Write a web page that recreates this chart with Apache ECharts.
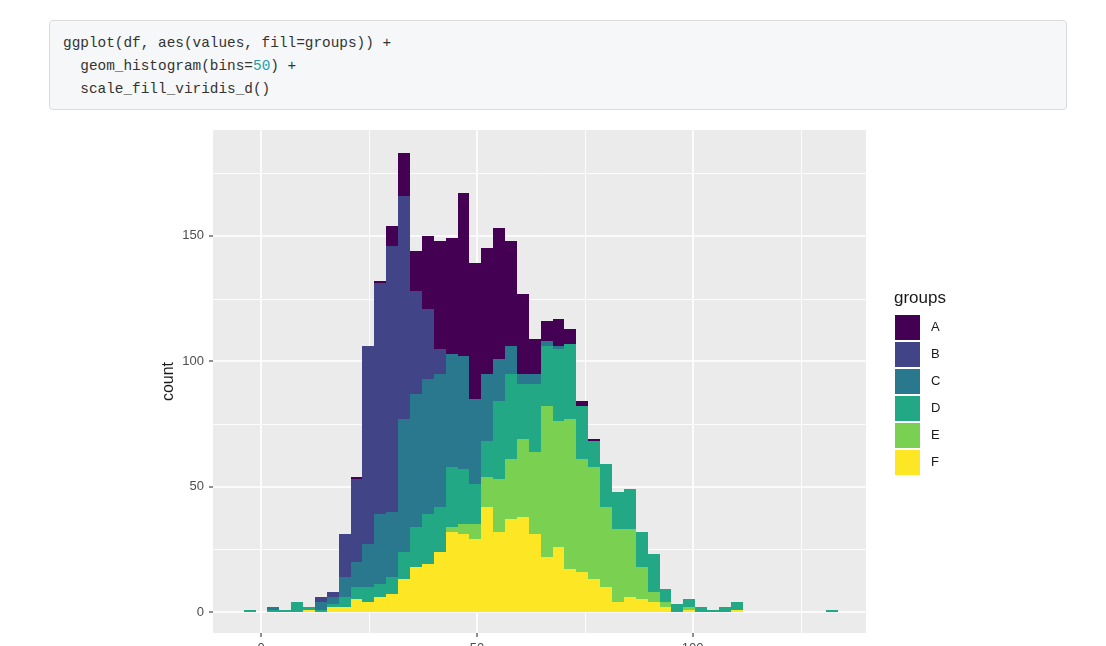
<!DOCTYPE html>
<html>
<head>
<meta charset="utf-8">
<script src="https://cdn.jsdelivr.net/npm/echarts@6/dist/echarts.min.js"></script>
<style>
  html, body { margin:0; padding:0; background:#ffffff; overflow:hidden; width:1106px; height:646px; }
  #chart { position:absolute; left:0; top:0; width:1106px; height:690px; }
  #code { position:absolute; left:49px; top:20px; width:1018px; height:90px; box-sizing:border-box;
          background:#f6f7f8; border:1px solid #dadbdc; border-radius:4px;
          font-family:'Liberation Mono','DejaVu Sans Mono',monospace; font-size:14.4px; line-height:23px;
          padding:11px 0 0 13px; color:#333333; white-space:pre; z-index:2; }
  #code .num { color:#1f9fa8; }
</style>
</head>
<body>
<div id="chart"></div>
<div id="code">ggplot(df, aes(values, fill=groups)) +
  geom_histogram(bins=<span class="num">50</span>) +
  scale_fill_viridis_d()</div>
<script>
// ---- data (counts per histogram bin, 50 bins) ----
const groups = ['A', 'B', 'C', 'D', 'E', 'F'];
const groupColors = ['#440154', '#414487', '#2A788E', '#22A884', '#7AD151', '#FDE725'];
const binStart = -4.05;   // left edge of first bin (value units)
const binWidth = 2.753;   // bin width (value units)

const countsA = [0,0,0,0,0,0,0,0,0,1, 0,1,8,17,16,29,43,46,65,54, 50,52,42,32,14,8,11,6,2,1, 0,0,0,0,0,0,0,0,0,0, 0,0,0,0,0,0,0,0,0,0];
const countsB = [0,0,0,0,0,0,2,2,17,33, 79,92,106,89,41,28,10,0,0,0, 0,0,0,0,0,0,0,0,0,0, 0,0,0,0,0,0,0,0,0,0, 0,0,0,0,0,0,0,0,0,0];
const countsC = [0,0,1,0,0,0,3,3,8,10, 17,28,26,53,53,54,53,45,45,34, 27,17,11,4,4,2,1,0,0,0, 0,0,0,0,0,0,0,0,0,0, 0,0,0,0,0,0,0,0,0,0];
const countsD = [1,0,1,1,4,1,1,1,4,5, 6,5,7,11,16,20,18,24,22,16, 14,31,34,22,27,24,29,30,21,10, 17,15,16,14,15,5,3,3,2,1, 2,3,0,0,0,0,0,0,0,1];
const countsE = [0,0,0,0,0,0,0,0,0,0, 0,0,0,0,0,0,0,2,4,6, 12,21,24,31,33,60,50,60,45,45, 32,29,27,13,4,2,0,1,0,0, 0,0,0,0,0,0,0,0,0,0];
const countsF = [0,0,0,0,0,1,0,2,2,5, 4,6,7,13,18,19,24,32,31,29, 42,32,37,38,31,22,26,17,16,13, 10,4,6,5,4,2,0,1,0,0, 0,1,0,0,0,0,0,0,0,0];

const yTicks = [0, 50, 100, 150];
const yMinorGrid = [25, 75, 125, 175];
const xTicks = [0, 50, 100];
const xMinorGrid = [25, 75, 125];

// ---- build stacked rectangles (ggplot stacks F at bottom, A on top) ----
const countsByGroup = [countsA, countsB, countsC, countsD, countsE, countsF];
const stackOrder = [5, 4, 3, 2, 1, 0];
const nBins = countsA.length;
const cum = new Array(nBins).fill(0);
const rectData = {};
stackOrder.forEach(g => {
  const arr = [];
  for (let i = 0; i < nBins; i++) {
    const v = countsByGroup[g][i];
    const lo = cum[i], hi = cum[i] + v;
    cum[i] = hi;
    if (v > 0) arr.push([binStart + i * binWidth, binStart + (i + 1) * binWidth, lo, hi]);
  }
  rectData[g] = arr;
});

const chart = echarts.init(document.getElementById('chart'), null, { renderer: 'canvas' });
const FONT = "'Liberation Sans', Arial, sans-serif";

const gridSeries = {
  type: 'custom', silent: true, z: 1, clip: false,
  data: [].concat(
    yTicks.map(v => ['h', v, 1]), yMinorGrid.map(v => ['h', v, 0]),
    xTicks.map(v => ['v', v, 1]), xMinorGrid.map(v => ['v', v, 0])
  ),
  dimensions: ['dir', 'val', 'major'],
  encode: { x: -1, y: -1 },
  renderItem: function (params, api) {
    const cs = params.coordSys;
    const dir = api.value(0), v = api.value(1), major = api.value(2);
    const w = major ? 1.7 : 0.85;
    const children = [];
    if (dir === 'h') {
      const y = Math.round(api.coord([0, v])[1]) + (major ? 0 : 0.5);
      children.push({ type: 'line', shape: { x1: cs.x, y1: y, x2: cs.x + cs.width, y2: y },
                      style: { stroke: '#ffffff', lineWidth: w } });
      if (major) children.push({ type: 'line', shape: { x1: cs.x - 4, y1: y, x2: cs.x, y2: y },
                                 style: { stroke: '#333333', lineWidth: 1.1 } });
    } else {
      const x = Math.round(api.coord([v, 0])[0]) + (major ? 0 : 0.5);
      children.push({ type: 'line', shape: { x1: x, y1: cs.y, x2: x, y2: cs.y + cs.height },
                      style: { stroke: '#ffffff', lineWidth: w } });
      if (major) children.push({ type: 'line', shape: { x1: x, y1: cs.y + cs.height, x2: x, y2: cs.y + cs.height + 4 },
                                 style: { stroke: '#333333', lineWidth: 1.1 } });
    }
    return { type: 'group', children: children };
  }
};

const barSeries = groups.map((name, g) => ({
  name: name,
  type: 'custom',
  z: 2,
  itemStyle: { color: groupColors[g] },
  data: rectData[g],
  encode: { x: [0, 1], y: [2, 3] },
  renderItem: function (params, api) {
    const a = api.coord([api.value(0), api.value(2)]);
    const b = api.coord([api.value(1), api.value(3)]);
    const x0 = Math.round(a[0]), x1 = Math.round(b[0]);
    const y0 = Math.round(a[1]), y1 = Math.round(b[1]);
    return { type: 'rect',
             shape: { x: x0, y: y1, width: x1 - x0, height: y0 - y1 },
             style: { fill: groupColors[g] } };
  }
}));

chart.setOption({
  animation: false,
  textStyle: { fontFamily: FONT },
  title: { text: 'groups', left: 894, top: 290, padding: 0,
           textStyle: { fontFamily: FONT, fontSize: 17, fontWeight: 'normal', color: '#1a1a1a' } },
  legend: {
    data: groups, orient: 'vertical', left: 895, top: 315, padding: 0,
    itemWidth: 25, itemHeight: 25, itemGap: 2, icon: 'rect', selectedMode: false,
    textStyle: { fontFamily: FONT, fontSize: 13, color: '#1a1a1a', padding: [0, 0, 0, 6] }
  },
  grid: { left: 213, top: 130, width: 653, height: 503, show: true,
          backgroundColor: '#ebebeb', borderWidth: 0, containLabel: false },
  xAxis: {
    type: 'value', min: -11.15, max: 140.15,
    axisLine: { show: false },
    axisTick: { show: false },
    axisLabel: { customValues: xTicks, color: '#4d4d4d', fontSize: 13, margin: 9, fontFamily: FONT },
    splitLine: { show: false }
  },
  yAxis: {
    type: 'value', min: -8.37, max: 192.2,
    name: 'count', nameLocation: 'middle', nameGap: 36, nameMoveOverlap: false,
    nameTextStyle: { fontFamily: FONT, fontSize: 16, color: '#1a1a1a' },
    axisLine: { show: false },
    axisTick: { show: false },
    axisLabel: { customValues: yTicks, color: '#4d4d4d', fontSize: 13, margin: 9, fontFamily: FONT },
    splitLine: { show: false }
  },
  series: [gridSeries].concat(barSeries)
});
</script>
</body>
</html>
